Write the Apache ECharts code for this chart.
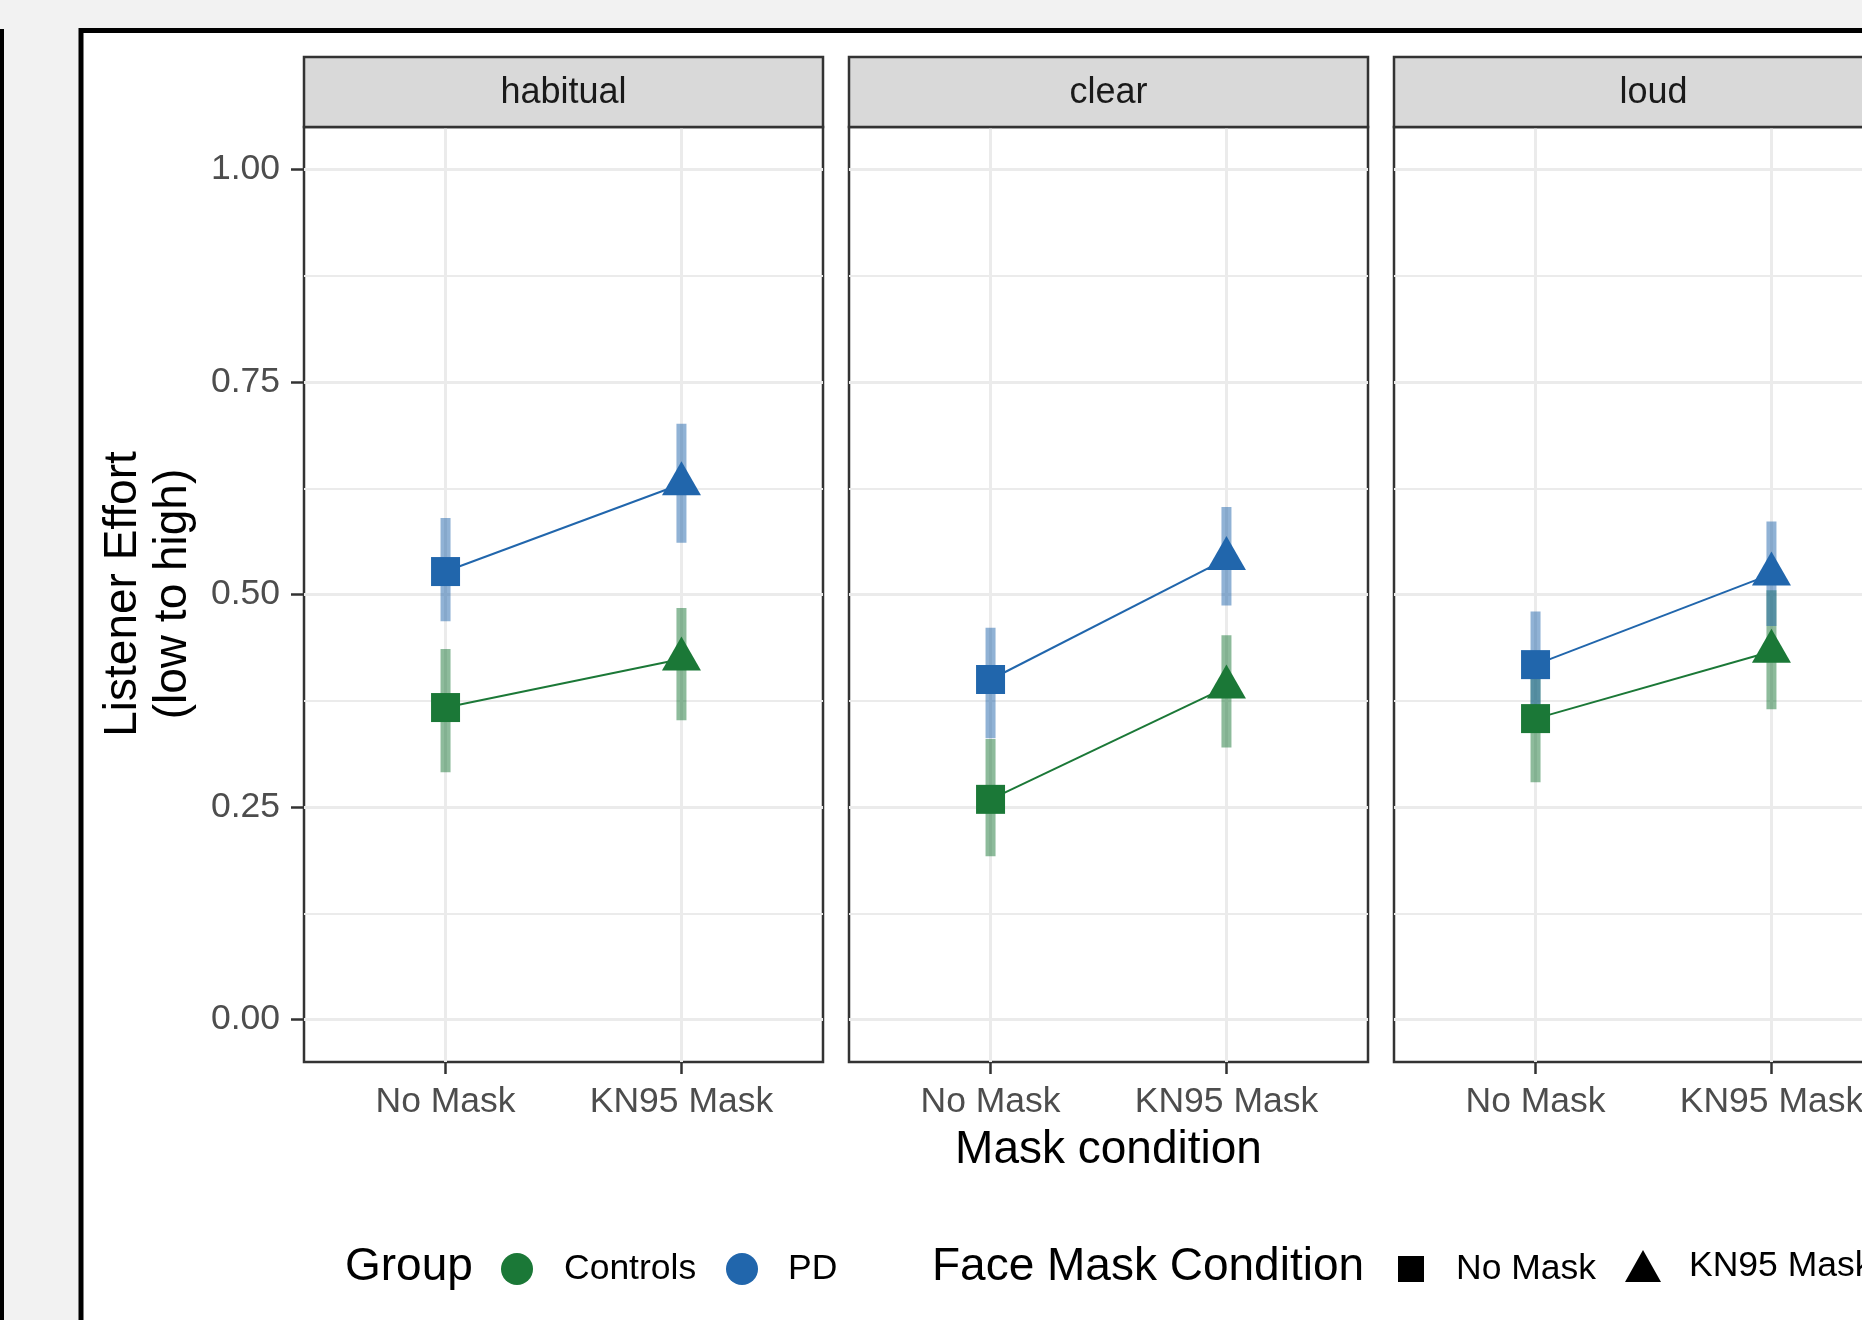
<!DOCTYPE html>
<html><head><meta charset="utf-8">
<script src="https://cdn.jsdelivr.net/npm/echarts@6/dist/echarts.min.js"></script>
<style>html,body{margin:0;padding:0;background:#f2f2f2;} #c{width:1862px;height:1320px;}</style>
</head><body><div id="c"></div>
<script>
// ---- data ----
const facets = ['habitual', 'clear', 'loud'];
const maskLabels = ['No Mask', 'KN95 Mask'];
const maskPos = [1, 2];
const groups = ['Controls', 'PD'];
const yTicks = [0, 0.25, 0.5, 0.75, 1];
const yMinor = [0.125, 0.375, 0.625, 0.875];
// per facet: [No Mask, KN95 Mask]
const controlsMean = [[0.367, 0.424], [0.259, 0.391], [0.354, 0.433]];
const controlsLow  = [[0.291, 0.352], [0.192, 0.320], [0.279, 0.365]];
const controlsHigh = [[0.436, 0.484], [0.330, 0.452], [0.429, 0.505]];
const pdMean = [[0.527, 0.630], [0.400, 0.542], [0.4175, 0.524]];
const pdLow  = [[0.4685, 0.561], [0.331, 0.487], [0.355, 0.463]];
const pdHigh = [[0.590, 0.701], [0.461, 0.603], [0.480, 0.586]];

// ---- style ----
const FONT = '"Liberation Sans", Arial, sans-serif';
const GREEN = '#1b7837', BLUE = '#2166ac';
const GREEN_A = 'rgba(27,120,55,0.5)', BLUE_A = 'rgba(33,102,172,0.5)';
const panelLeft = [304, 849, 1394];
const panelW = 519, panelTop = 127, panelH = 935;
const stripTop = 57, stripH = 70;
const TICK_FS = 35.5, STRIP_FS = 36, TITLE_FS = 46;
const LEG_Y = 1267;

const chart = echarts.init(document.getElementById('c'), null, {renderer: 'canvas'});

const grids = facets.map((f, i) => ({
  left: panelLeft[i], top: panelTop, width: panelW, height: panelH,
  show: true, borderColor: '#333333', borderWidth: 2.5, backgroundColor: '#ffffff',
  containLabel: false, outerBoundsMode: 'none'
}));

const xLabel = v => { const k = maskPos.indexOf(Math.round(v * 1000) / 1000); return k >= 0 ? maskLabels[k] : ''; };

const xAxes = facets.map((f, i) => ({
  type: 'value', gridIndex: i, min: 0.4, max: 2.6, position: 'bottom',
  axisLine: {show: false, onZero: false},
  axisTick: {show: true, customValues: maskPos, length: 12, lineStyle: {color: '#333333', width: 2.5}},
  axisLabel: {show: true, customValues: maskPos, formatter: xLabel, fontSize: TICK_FS, fontFamily: FONT, color: '#4d4d4d', margin: 22},
  splitLine: {show: true, lineStyle: {color: '#ebebeb', width: 3}}
}));

const yAxes = facets.map((f, i) => ({
  type: 'value', gridIndex: i, min: -0.05, max: 1.05, position: 'left',
  axisLine: {show: false, onZero: false},
  axisTick: {show: i === 0, customValues: yTicks, length: 13, lineStyle: {color: '#333333', width: 2.5}},
  axisLabel: {show: i === 0, customValues: yTicks, formatter: v => v.toFixed(2), fontSize: TICK_FS, fontFamily: FONT, color: '#4d4d4d', margin: 24},
  splitLine: {show: true, lineStyle: {color: '#ebebeb', width: 3}}
})).concat(facets.map((f, i) => ({
  type: 'value', gridIndex: i, min: -0.05, max: 1.05, position: 'left',
  axisLine: {show: false, onZero: false},
  axisTick: {show: false, customValues: yMinor},
  axisLabel: {show: false, customValues: yMinor},
  splitLine: {show: true, lineStyle: {color: '#ebebeb', width: 1.8}}
})));

function errSeries(i, low, high, col) {
  return {
    type: 'custom', xAxisIndex: i, yAxisIndex: i, z: 2, silent: true,
    data: maskPos.map((p, k) => [p, low[i][k], high[i][k]]),
    encode: {x: 0, y: [1, 2]},
    renderItem: (params, api) => {
      const a = api.coord([api.value(0), api.value(1)]);
      const b = api.coord([api.value(0), api.value(2)]);
      return {type: 'line', shape: {x1: a[0], y1: a[1], x2: b[0], y2: b[1]},
              style: {stroke: col, lineWidth: 10, lineCap: 'butt'}};
    }
  };
}
function lineSeries(i, mean, col) {
  return {
    type: 'line', xAxisIndex: i, yAxisIndex: i, z: 3, silent: true,
    lineStyle: {color: col, width: 2}, itemStyle: {color: col},
    showSymbol: true, showAllSymbol: true,
    data: maskPos.map((p, k) => k === 0
      ? {value: [p, mean[i][k]], symbol: 'rect', symbolSize: 29}
      : {value: [p, mean[i][k]], symbol: 'triangle', symbolSize: [39, 34], symbolOffset: [0, -5.7]})
  };
}

const series = [];
facets.forEach((f, i) => {
  series.push(errSeries(i, controlsLow, controlsHigh, GREEN_A));
  series.push(errSeries(i, pdLow, pdHigh, BLUE_A));
});
facets.forEach((f, i) => {
  series.push(lineSeries(i, controlsMean, GREEN));
  series.push(lineSeries(i, pdMean, BLUE));
});
// legend-only series
series.push({type: 'scatter', name: groups[0], data: [], itemStyle: {color: GREEN, opacity: 1}});
series.push({type: 'scatter', name: groups[1], data: [], itemStyle: {color: BLUE, opacity: 1}});
series.push({type: 'scatter', name: maskLabels[0], data: [], itemStyle: {color: '#000', opacity: 1}});
series.push({type: 'scatter', name: maskLabels[1], data: [], itemStyle: {color: '#000', opacity: 1}});

function leg(name, icon, cx, cy, w, h, textX) {
  const left = cx - w / 2;
  return {show: true, data: [{name: name, icon: icon}], left: left, top: cy - h / 2,
          itemWidth: w, itemHeight: h, padding: 0, selectedMode: false,
          itemStyle: {opacity: 1},
          textStyle: {fontSize: TICK_FS, fontFamily: FONT, color: '#000',
                      padding: [0, 0, 0, Math.max(0, textX - (left + w + 5))]}};
}
const legends = [
  leg(groups[0], 'circle', 517, LEG_Y, 32, 32, 564),
  leg(groups[1], 'circle', 742, LEG_Y, 32, 32, 788),
  leg(maskLabels[0], 'rect', 1411, LEG_Y - 3, 26, 26, 1456),
  leg(maskLabels[1], 'triangle', 1643, LEG_Y - 3, 36, 32, 1689)
];

function txt(x, y, text, fs, color, align, rot) {
  return {type: 'text', x: x, y: y, rotation: rot || 0, z: 20,
    style: {text: text, font: fs + 'px ' + FONT, fill: color,
            align: align, verticalAlign: 'middle', textAlign: align, textVerticalAlign: 'middle'}};
}
const graphic = [
  {type: 'rect', z: -10, shape: {x: 0, y: 29, width: 4, height: 1400}, style: {fill: '#000'}},
  {type: 'rect', z: -10, shape: {x: 81, y: 30.5, width: 2100, height: 2100}, style: {fill: '#fff', stroke: '#000', lineWidth: 5}}
];
facets.forEach((f, i) => {
  graphic.push({type: 'rect', z: 10, shape: {x: panelLeft[i], y: stripTop, width: panelW, height: stripH},
                style: {fill: '#d9d9d9', stroke: '#333333', lineWidth: 2.5}});
  graphic.push(txt(panelLeft[i] + panelW / 2, stripTop + stripH / 2 + 1, f, STRIP_FS, '#1a1a1a', 'center'));
});
graphic.push(txt(123, 594, 'Listener Effort', TITLE_FS, '#000', 'center', Math.PI / 2));
graphic.push(txt(173, 594, '(low to high)', TITLE_FS, '#000', 'center', Math.PI / 2));
graphic.push(txt(panelLeft[1] + panelW / 2, 1150, 'Mask condition', TITLE_FS, '#000', 'center'));
graphic.push(txt(345, LEG_Y, 'Group', TITLE_FS, '#000', 'left'));
graphic.push(txt(932, LEG_Y, 'Face Mask Condition', TITLE_FS, '#000', 'left'));

chart.setOption({
  backgroundColor: '#f2f2f2',
  animation: false,
  grid: grids, xAxis: xAxes, yAxis: yAxes,
  legend: legends,
  series: series,
  graphic: graphic
});
</script></body></html>
